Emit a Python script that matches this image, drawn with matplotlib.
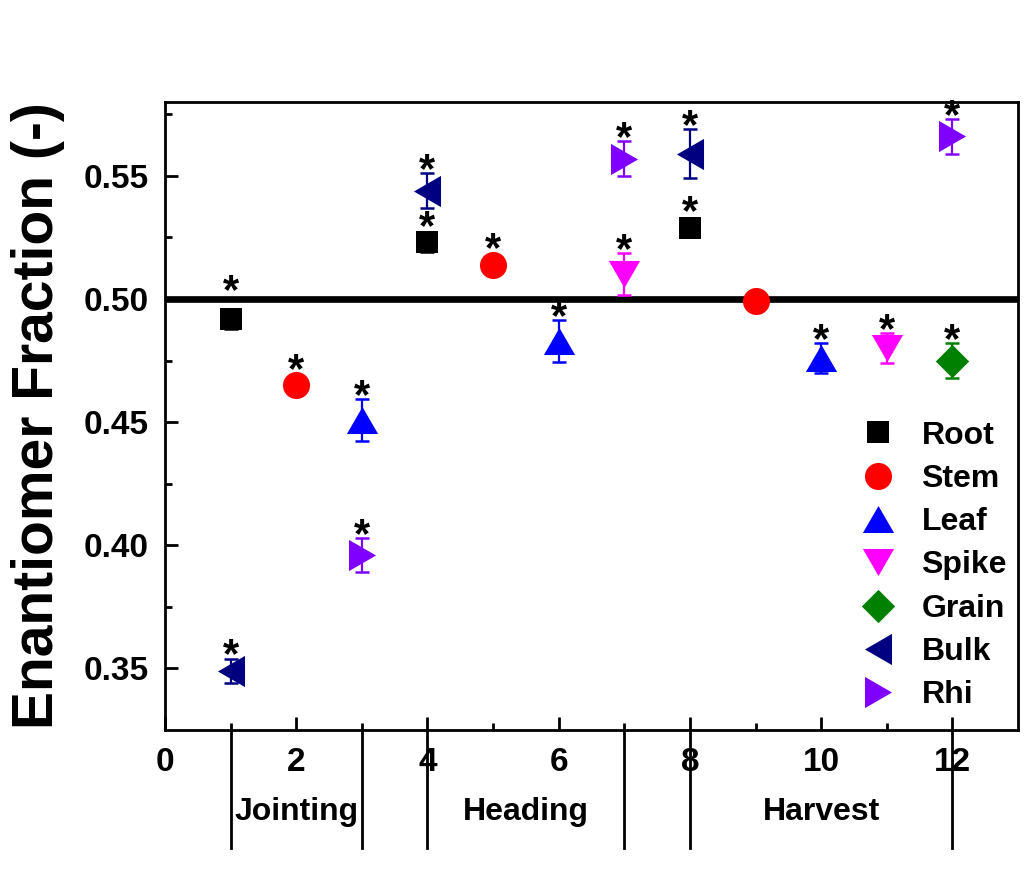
import matplotlib
matplotlib.use("Agg")
import matplotlib.pyplot as plt
import matplotlib.transforms as mtransforms
import numpy as np

plt.rcParams['font.family'] = ['Liberation Sans', 'DejaVu Sans']
plt.rcParams['font.weight'] = 'bold'

# sampling points (x) / enantiomer fraction (y) / error / significance
root_x = [1, 4, 8]
root_y = [0.492, 0.523, 0.529]
root_err = [0.004, 0.004, 0.004]
root_sig = [1, 1, 1]

stem_x = [2, 5, 9]
stem_y = [0.465, 0.514, 0.499]
stem_err = [0.002, 0.002, 0.002]
stem_sig = [1, 1, 0]

leaf_x = [3, 6, 10]
leaf_y = [0.451, 0.483, 0.476]
leaf_err = [0.0085, 0.0085, 0.006]
leaf_sig = [1, 1, 1]

spike_x = [7, 11]
spike_y = [0.510, 0.480]
spike_err = [0.0085, 0.006]
spike_sig = [1, 1]

grain_x = [12]
grain_y = [0.475]
grain_err = [0.007]
grain_sig = [1]

bulk_x = [1, 4, 8]
bulk_y = [0.349, 0.544, 0.559]
bulk_err = [0.005, 0.007, 0.010]
bulk_sig = [1, 1, 1]

rhi_x = [3, 7, 12]
rhi_y = [0.396, 0.557, 0.566]
rhi_err = [0.007, 0.007, 0.007]
rhi_sig = [1, 1, 1]

phase_names = ['Jointing', 'Heading', 'Harvest']
phase_start = [1, 4, 8]
phase_end = [3, 7, 12]

# custom markers (equilateral triangles, diamond)
s3 = np.sqrt(3) / 2
tri_up = [(-1, -s3), (1, -s3), (0, s3), (-1, -s3)]
tri_down = [(-1, s3), (1, s3), (0, -s3), (-1, s3)]
tri_left = [(s3, -1), (s3, 1), (-s3, 0), (s3, -1)]
tri_right = [(-s3, -1), (-s3, 1), (s3, 0), (-s3, -1)]
diamond = [(0, 1), (1, 0), (0, -1), (-1, 0), (0, 1)]

series = [
    ('Root', root_x, root_y, root_err, root_sig, 's', 'black', 16),
    ('Stem', stem_x, stem_y, stem_err, stem_sig, 'o', 'red', 19.5),
    ('Leaf', leaf_x, leaf_y, leaf_err, leaf_sig, tri_up, 'blue', 22.5),
    ('Spike', spike_x, spike_y, spike_err, spike_sig, tri_down, 'magenta', 22.5),
    ('Grain', grain_x, grain_y, grain_err, grain_sig, diamond, 'green', 24),
    ('Bulk', bulk_x, bulk_y, bulk_err, bulk_sig, tri_left, 'navy', 22.5),
    ('Rhi', rhi_x, rhi_y, rhi_err, rhi_sig, tri_right, '#8000ff', 22.5),
]

fig = plt.figure(figsize=(10.34, 8.69), dpi=100)
ax = fig.add_axes([0.1596, 0.16, 0.8249, 0.7226])

ax.axhline(0.5, color='black', lw=4.8, zorder=1)

for name, xs, ys, errs, sig, mk, col, ms in series:
    ax.errorbar(xs, ys, yerr=errs, fmt='none', ecolor=col, elinewidth=1.6,
                capsize=5, capthick=1.8, zorder=2)
    ax.plot(xs, ys, ls='none', marker=mk, color=col, ms=ms, mec=col,
            mew=0, label=name, zorder=3)
    for x, y, e, s in zip(xs, ys, errs, sig):
        if s:
            ya = y + max(e, 0.005)
            # keep the star clear of the 0.5 reference line
            if abs(ya - 0.5) < 0.005:
                ya = 0.5 + 0.002
            ax.annotate('*', xy=(x, ya), xytext=(0, 1.5),
                        textcoords='offset points', ha='center', va='center',
                        fontsize=30, fontweight='bold', zorder=4)

ax.set_xlim(0, 13)
ax.set_ylim(0.325, 0.58)
ax.set_xticks(np.arange(0, 13, 2))
ax.set_xticks(np.arange(1, 13, 2), minor=True)
ax.set_yticks([0.35, 0.40, 0.45, 0.50, 0.55])
ax.set_yticks(np.arange(0.375, 0.58, 0.05), minor=True)
ax.set_yticklabels(['0.35', '0.40', '0.45', '0.50', '0.55'])
ax.tick_params(which='both', direction='in', width=2, labelsize=24, top=False, right=False)
ax.tick_params(which='major', length=9.5, pad=12)
ax.tick_params(which='minor', length=5)
for sp in ax.spines.values():
    sp.set_linewidth(2)
ax.set_ylabel('Enantiomer Fraction (-)', fontsize=41, fontweight='bold', labelpad=13)

# growth stage separators and labels below the axis
trans = mtransforms.blended_transform_factory(ax.transData, ax.transAxes)
edges = sorted(set(phase_start + phase_end))
for e in edges:
    ax.plot([e, e], [0, -0.188], transform=trans, color='black', lw=2, clip_on=False)
for name, a, b in zip(phase_names, phase_start, phase_end):
    ax.text((a + b) / 2, -0.13, name, transform=trans, ha='center', va='center',
            fontsize=23, fontweight='bold')

ax.legend(loc='upper left', bbox_to_anchor=(0.795, 0.518), frameon=False,
          fontsize=23, labelspacing=0.415, handletextpad=0.75, handlelength=1.2,
          borderpad=0)

fig.savefig('out.png', dpi=100)
